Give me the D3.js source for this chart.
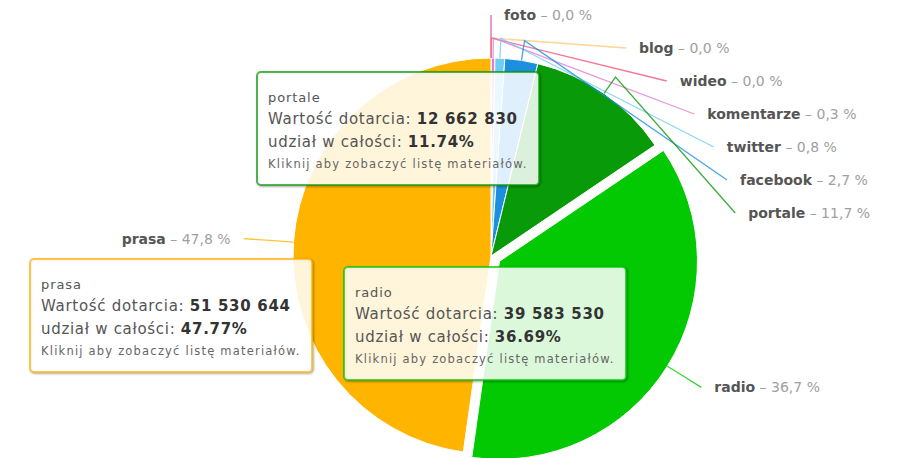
<!DOCTYPE html>
<html>
<head>
<meta charset="utf-8">
<script src="https://cdn.jsdelivr.net/npm/d3@7/dist/d3.min.js"></script>
<style>
  body { margin: 0; background: #fff; }
  svg { display: block; font-family: "DejaVu Sans", Verdana, sans-serif; }
</style>
</head>
<body>
<svg id="chart" width="907" height="458"></svg>
<script>
// dane
var categories = ['foto', 'blog', 'wideo', 'komentarze', 'twitter', 'facebook', 'portale', 'radio', 'prasa'];
var values = [3000, 8000, 12000, 320000, 860000, 2900000, 12662830, 39583530, 51530644];
var colors = ['#c2449e', '#fbc97c', '#f2557c', '#e57ad9', '#6fcdf2', '#1d8fdf', '#099a09', '#03c903', '#ffb400'];
var slicedSeries = ['radio'];
var tooltipSeries = ['portale', 'prasa', 'radio'];
var tooltipPos = { portale: [257, 72], prasa: [30, 259], radio: [344, 267] };

var cx = 491, cy = 256, r = 198, sliceOff = 10;
var labelR = r + 50, breakR = r + 20;

var fmtLabel = d3.formatLocale({ decimal: ',', thousands: ' ', grouping: [3], currency: ['', ''] }).format('.1f');
var fmtValue = d3.formatLocale({ decimal: '.', thousands: ' ', grouping: [3], currency: ['', ''] }).format(',d');

var data = categories.map(function (c, i) { return { name: c, value: values[i], color: colors[i] }; });
var total = d3.sum(values);

var svg = d3.select('#chart');
var pie = d3.pie().sort(null).value(function (d) { return d.value; });
var arc = d3.arc().innerRadius(0).outerRadius(r);
var arcs = pie(data);

arcs.forEach(function (a) {
  a.mid = (a.startAngle + a.endAngle) / 2;
  a.off = slicedSeries.indexOf(a.data.name) >= 0 ? sliceOff : 0;
  a.dx = Math.sin(a.mid) * a.off;
  a.dy = -Math.cos(a.mid) * a.off;
  a.pct = a.data.value / total * 100;
});

var g = svg.append('g').attr('transform', 'translate(' + cx + ',' + cy + ')');

g.selectAll('path.slice')
  .data(arcs)
  .enter().append('path')
  .attr('class', 'slice')
  .attr('d', arc)
  .attr('transform', function (a) { return 'translate(' + a.dx + ',' + a.dy + ')'; })
  .attr('fill', function (a) { return a.data.color; })
  .attr('stroke', '#fff')
  .attr('stroke-width', 1);

// rozmieszczenie etykiet
function placeSide(list, left) {
  list.forEach(function (a) { a.natY = cy - labelR * Math.cos(a.mid); });
  var prev = -Infinity;
  list.forEach(function (a) {
    a.ly = Math.max(a.natY, prev + 33, 15);
    prev = a.ly;
  });
  list.forEach(function (a, i) {
    var yy = (i === 0 || i === list.length - 1) ? a.natY : a.ly;
    var h = Math.sqrt(Math.max(0, labelR * labelR - (yy - cy) * (yy - cy)));
    a.lx = left ? cx - h : cx + h;
    a.left = left;
  });
}
placeSide(arcs.filter(function (a) { return a.mid < Math.PI; }), false);
placeSide(arcs.filter(function (a) { return a.mid >= Math.PI; }).reverse(), true);

var line = d3.line().curve(d3.curveLinear);
svg.append('g').selectAll('path')
  .data(arcs)
  .enter().append('path')
  .attr('d', function (a) {
    var s = Math.sin(a.mid), c = -Math.cos(a.mid);
    return line([
      [cx + a.dx + s * r, cy + a.dy + c * r],
      [cx + a.dx + s * breakR, cy + a.dy + c * breakR],
      [a.lx, a.ly]
    ]);
  })
  .attr('fill', 'none')
  .attr('stroke', function (a) { return a.data.color; })
  .attr('stroke-opacity', 0.8)
  .attr('stroke-width', 1.3);

var labels = svg.append('g').selectAll('text')
  .data(arcs)
  .enter().append('text')
  .attr('x', function (a) { return a.left ? a.lx - 13 : a.lx + 13; })
  .attr('y', function (a) { return a.ly; })
  .attr('dy', '0.35em')
  .attr('text-anchor', function (a) { return a.left ? 'end' : 'start'; })
  .style('font-size', '14px');
labels.append('tspan')
  .attr('font-weight', 'bold')
  .attr('fill', '#555')
  .text(function (a) { return a.data.name; });
labels.append('tspan')
  .attr('fill', '#a0a0a0')
  .text(function (a) { return ' – ' + fmtLabel(a.pct) + ' %'; });

// dymki
var tips = svg.append('g');
arcs.filter(function (a) { return tooltipSeries.indexOf(a.data.name) >= 0; }).forEach(function (a) {
  var p = tooltipPos[a.data.name];
  var tg = tips.append('g').attr('transform', 'translate(' + p[0] + ',' + p[1] + ')');
  var shadow = tg.append('g');
  var box = tg.append('rect');
  var t = tg.append('g').attr('transform', 'translate(11,0)');

  t.append('text').attr('y', 25).attr('dy', '0.35em')
    .style('font-size', '13px').style('letter-spacing', '0.9px')
    .attr('fill', '#555').text(a.data.name);
  var l2 = t.append('text').attr('y', 47).attr('dy', '0.35em')
    .style('font-size', '15px').style('letter-spacing', '0.7px');
  l2.append('tspan').attr('fill', '#555').text('Wartość dotarcia: ');
  l2.append('tspan').attr('fill', '#333').attr('font-weight', 'bold').text(fmtValue(a.data.value));
  var l3 = t.append('text').attr('y', 70).attr('dy', '0.35em')
    .style('font-size', '15px').style('letter-spacing', '0.7px');
  l3.append('tspan').attr('fill', '#555').text('udział w całości: ');
  l3.append('tspan').attr('fill', '#333').attr('font-weight', 'bold').text(a.pct.toFixed(2) + '%');
  t.append('text').attr('y', 92).attr('dy', '0.35em')
    .style('font-size', '11.5px').style('letter-spacing', '1.2px')
    .attr('fill', '#666').text('Kliknij aby zobaczyć listę materiałów.');

  var bb = t.node().getBBox();
  var w = Math.ceil(bb.width + 22), h = 113;
  [[5, 0.05], [3, 0.1], [1, 0.15]].forEach(function (s) {
    shadow.append('rect').attr('x', 1).attr('y', 1).attr('width', w).attr('height', h)
      .attr('rx', 4).attr('fill', 'none').attr('stroke', '#000')
      .attr('stroke-opacity', s[1]).attr('stroke-width', s[0]);
  });
  box.attr('width', w).attr('height', h).attr('rx', 4)
    .attr('fill', '#fff').attr('fill-opacity', 0.86)
    .attr('stroke', a.data.color).attr('stroke-opacity', 0.7).attr('stroke-width', 2);
});
</script>
</body>
</html>
